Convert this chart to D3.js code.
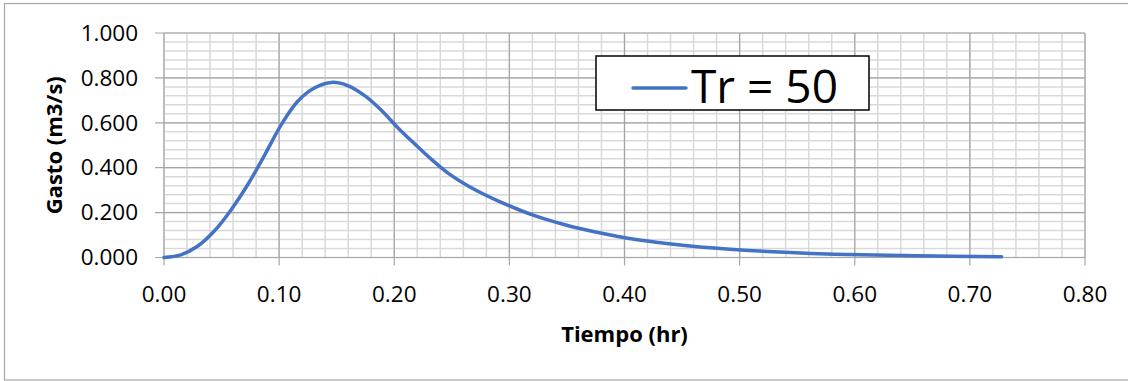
<!DOCTYPE html>
<html>
<head>
<meta charset="utf-8">
<script src="https://cdn.jsdelivr.net/npm/d3@7"></script>
<style>
  body { margin: 0; background: #fff; }
  svg { display: block; font-family: "Open Sans", sans-serif; }
</style>
</head>
<body>
<svg id="chart" width="1128" height="381"></svg>
<script>
// hidrograma Tr = 50
var tiempo = [0, 0.0146, 0.0291, 0.0437, 0.0582, 0.0728, 0.0873, 0.1019, 0.1164, 0.131,
              0.1455, 0.160, 0.1746, 0.189, 0.2037, 0.218, 0.2328, 0.247, 0.262, 0.2765,
              0.291, 0.320, 0.349, 0.378, 0.407, 0.4365, 0.4656, 0.4947, 0.524, 0.553,
              0.582, 0.655, 0.7275];
var gasto = [0, 0.012, 0.05, 0.118, 0.212, 0.325, 0.455, 0.592, 0.697, 0.756,
             0.780, 0.765, 0.720, 0.655, 0.575, 0.505, 0.435, 0.375, 0.325, 0.285,
             0.250, 0.190, 0.145, 0.110, 0.082, 0.062, 0.047, 0.036, 0.027, 0.020,
             0.015, 0.008, 0.003];
var xTicks = [0, 0.1, 0.2, 0.3, 0.4, 0.5, 0.6, 0.7, 0.8];
var yTicks = [0, 0.2, 0.4, 0.6, 0.8, 1.0];
var serieNombre = "Tr = 50";

(function() {
    var svg = d3.select("#chart");
    var pLeft = 164, pRight = 1085, pTop = 33, pBottom = 257.5;

    var x = d3.scaleLinear().domain([0, 0.8]).range([pLeft, pRight]);
    var y = d3.scaleLinear().domain([0, 1]).range([pBottom, pTop]);

    // marco exterior
    svg.append("rect")
        .attr("x", 4.5).attr("y", 3.5)
        .attr("width", 1130).attr("height", 376.5)
        .attr("fill", "none").attr("stroke", "#a6a6a6").attr("stroke-width", 1.2);

    // grilla menor
    var g = svg.append("g");
    g.selectAll("line.vmin")
        .data(d3.range(0, 41).map(function(i) { return i * 0.02; }))
        .enter().append("line")
        .attr("x1", function(d) { return x(d); }).attr("x2", function(d) { return x(d); })
        .attr("y1", pTop).attr("y2", pBottom)
        .attr("stroke", "#d9d9d9").attr("stroke-width", 1.5);
    g.selectAll("line.hmin")
        .data(d3.range(0, 26).map(function(i) { return i * 0.04; }))
        .enter().append("line")
        .attr("y1", function(d) { return y(d); }).attr("y2", function(d) { return y(d); })
        .attr("x1", pLeft).attr("x2", pRight)
        .attr("stroke", "#d9d9d9").attr("stroke-width", 1.5);

    // grilla mayor
    g.selectAll("line.vmaj")
        .data(xTicks).enter().append("line")
        .attr("x1", function(d) { return x(d); }).attr("x2", function(d) { return x(d); })
        .attr("y1", pTop).attr("y2", pBottom + 8)
        .attr("stroke", "#a6a6a6").attr("stroke-width", 1.2);
    g.selectAll("line.hmaj")
        .data(yTicks).enter().append("line")
        .attr("y1", function(d) { return y(d); }).attr("y2", function(d) { return y(d); })
        .attr("x1", pLeft - 9).attr("x2", pRight)
        .attr("stroke", "#a6a6a6").attr("stroke-width", 1.2);

    // etiquetas de ejes
    svg.selectAll("text.xt")
        .data(xTicks).enter().append("text")
        .attr("x", function(d) { return x(d); })
        .attr("y", 302)
        .attr("text-anchor", "middle")
        .attr("font-size", 22.5)
        .attr("fill", "#000")
        .text(function(d) { return d.toFixed(2); });
    svg.selectAll("text.yt")
        .data(yTicks).enter().append("text")
        .attr("x", 138)
        .attr("y", function(d) { return y(d) + 7.7; })
        .attr("text-anchor", "end")
        .attr("font-size", 22.5)
        .attr("fill", "#000")
        .text(function(d) { return d.toFixed(3); });

    svg.append("text")
        .attr("x", (pLeft + pRight) / 2).attr("y", 341.5)
        .attr("text-anchor", "middle")
        .attr("font-size", 22).attr("font-weight", "bold")
        .text("Tiempo (hr)");
    svg.append("text")
        .attr("transform", "translate(62," + ((pTop + pBottom) / 2) + ") rotate(-90)")
        .attr("text-anchor", "middle")
        .attr("font-size", 22).attr("font-weight", "bold")
        .text("Gasto (m3/s)");

    // curva
    var datos = tiempo.map(function(t, i) { return [t, gasto[i]]; });
    var linea = d3.line()
        .x(function(d) { return x(d[0]); })
        .y(function(d) { return y(d[1]); })
        .curve(d3.curveCatmullRom.alpha(0.5));
    svg.append("path")
        .datum(datos)
        .attr("d", linea)
        .attr("fill", "none")
        .attr("stroke", "#4472c4")
        .attr("stroke-width", 3.5)
        .attr("stroke-linecap", "round")
        .attr("stroke-linejoin", "round");

    // leyenda
    var ley = svg.append("g");
    ley.append("rect")
        .attr("x", 596).attr("y", 56).attr("width", 273).attr("height", 54)
        .attr("fill", "#fff").attr("stroke", "#000").attr("stroke-width", 1.5);
    ley.append("line")
        .attr("x1", 633).attr("x2", 686).attr("y1", 88).attr("y2", 88)
        .attr("stroke", "#4472c4").attr("stroke-width", 3.5).attr("stroke-linecap", "round");
    ley.append("text")
        .attr("x", 691).attr("y", 103)
        .attr("font-size", 46)
        .text(serieNombre);
})();
</script>
</body>
</html>
